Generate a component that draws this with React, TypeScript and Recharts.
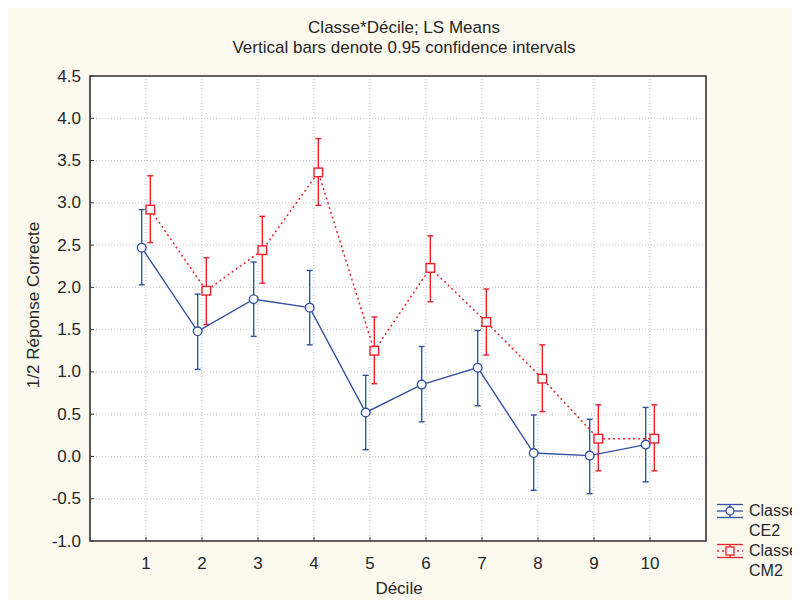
import React from "react";
import {
  ScatterChart,
  Scatter,
  XAxis,
  YAxis,
  CartesianGrid,
  ErrorBar,
  ReferenceArea,
  Legend,
} from "recharts";

const DECILES = [1, 2, 3, 4, 5, 6, 7, 8, 9, 10];
const CE2_MEAN = [2.47, 1.48, 1.86, 1.76, 0.52, 0.85, 1.05, 0.04, 0.01, 0.14];
const CE2_LOW = [2.03, 1.03, 1.42, 1.32, 0.08, 0.41, 0.6, -0.4, -0.44, -0.3];
const CE2_HIGH = [2.92, 1.92, 2.3, 2.2, 0.96, 1.3, 1.49, 0.49, 0.44, 0.58];
const CM2_MEAN = [2.92, 1.96, 2.44, 3.36, 1.25, 2.23, 1.59, 0.92, 0.21, 0.21];
const CM2_LOW = [2.53, 1.56, 2.05, 2.97, 0.86, 1.83, 1.2, 0.53, -0.17, -0.17];
const CM2_HIGH = [3.32, 2.35, 2.84, 3.76, 1.65, 2.61, 1.98, 1.32, 0.61, 0.61];
const Y_TICKS = [-1, -0.5, 0, 0.5, 1, 1.5, 2, 2.5, 3, 3.5, 4, 4.5];

const BLUE = "#3352a3";
const RED = "#ec2227";
const TEXT = "#262626";
const FONT = "'Liberation Sans', Arial, sans-serif";
const FS = 17;
const SHIFT = 0.077; // the two groups are drawn a bit apart around each decile

const build = (mean: number[], low: number[], high: number[], dx: number) =>
  DECILES.map((d, i) => ({
    x: d + dx,
    y: mean[i],
    err: [mean[i] - low[i], high[i] - mean[i]],
  }));

const ce2 = build(CE2_MEAN, CE2_LOW, CE2_HIGH, -SHIFT);
const cm2 = build(CM2_MEAN, CM2_LOW, CM2_HIGH, SHIFT);

const CircleDot = (p: any) => (
  <circle cx={p.cx} cy={p.cy} r={4.3} fill="#fff" stroke={BLUE} strokeWidth={1.4} />
);
const SquareDot = (p: any) => (
  <rect x={p.cx - 4.3} y={p.cy - 4.3} width={8.6} height={8.6} fill="#fff" stroke={RED} strokeWidth={1.4} />
);

const YTick = (p: any) => (
  <g>
    <line x1={p.x + 9} x2={p.x + 13} y1={p.y} y2={p.y} stroke="#333" />
    <text x={p.x} y={p.y} textAnchor="end" dominantBaseline="central" fontSize={FS} fill={TEXT} fontFamily={FONT}>
      {p.payload.value.toFixed(1)}
    </text>
  </g>
);

const XTick = (p: any) => (
  <g>
    <line x1={p.x} x2={p.x} y1={p.y - 22} y2={p.y - 26} stroke="#333" />
    <text x={p.x} y={p.y} textAnchor="middle" dominantBaseline="central" fontSize={FS} fill={TEXT} fontFamily={FONT}>
      {p.payload.value}
    </text>
  </g>
);

const Icon = ({ color, dotted, square }: { color: string; dotted?: boolean; square?: boolean }) => (
  <svg width={26} height={20} style={{ flex: "none" }}>
    <line x1={0} x2={26} y1={3.5} y2={3.5} stroke={color} strokeWidth={1.3} />
    <line x1={0} x2={26} y1={16.5} y2={16.5} stroke={color} strokeWidth={1.3} />
    <line x1={0} x2={26} y1={10} y2={10} stroke={color} strokeWidth={1.3} strokeDasharray={dotted ? "2 3" : undefined} />
    <line x1={13} x2={13} y1={3.5} y2={16.5} stroke={color} strokeWidth={1.3} />
    {square ? (
      <rect x={9} y={6} width={8} height={8} fill="#fff" stroke={color} strokeWidth={1.3} />
    ) : (
      <circle cx={13} cy={10} r={4} fill="#fff" stroke={color} strokeWidth={1.3} />
    )}
  </svg>
);

const LegendBox = () => (
  <div style={{ fontFamily: FONT, fontSize: 16, color: TEXT, lineHeight: "20px", whiteSpace: "nowrap" }}>
    <div style={{ display: "flex", gap: 6 }}>
      <Icon color={BLUE} />
      <div>Classe<br />CE2</div>
    </div>
    <div style={{ display: "flex", gap: 6 }}>
      <Icon color={RED} dotted square />
      <div>Classe<br />CM2</div>
    </div>
  </div>
);

export default function App() {
  return (
    <div style={{ position: "relative", width: 792, height: 592, background: "#fcf9ef", overflow: "hidden", fontFamily: FONT }}>
      <div style={{ position: "absolute", top: 10, width: 792, textAlign: "center", fontSize: FS, color: TEXT, lineHeight: "20px" }}>
        Classe*Décile; LS Means
        <br />
        Vertical bars denote 0.95 confidence intervals
      </div>
      <ScatterChart width={792} height={592} margin={{ top: 68, right: 94, left: 0, bottom: 0 }}>
        <CartesianGrid stroke="#c6c6c6" strokeDasharray="1 2" fill="#fff" />
        <XAxis
          type="number"
          dataKey="x"
          domain={[0, 11]}
          ticks={DECILES}
          allowDataOverflow
          height={59}
          axisLine={false}
          tickLine={false}
          tickSize={0}
          tickMargin={22}
          tick={<XTick />}
          label={{
            content: () => (
              <text x={391} y={580} textAnchor="middle" dominantBaseline="central" fontSize={FS} fill={TEXT} fontFamily={FONT}>
                Décile
              </text>
            ),
          }}
        />
        <YAxis
          type="number"
          dataKey="y"
          domain={[-1, 4.5]}
          ticks={Y_TICKS}
          allowDataOverflow
          width={82}
          axisLine={false}
          tickLine={false}
          tickSize={0}
          tickMargin={9}
          tick={<YTick />}
          label={{
            content: () => (
              <text
                x={25}
                y={297}
                transform="rotate(-90 25 297)"
                textAnchor="middle"
                dominantBaseline="central"
                fontSize={FS}
                fill={TEXT}
                fontFamily={FONT}
              >
                1/2 Réponse Correcte
              </text>
            ),
          }}
        />
        <ReferenceArea x1={0} x2={11} y1={-1} y2={4.5} fill="none" stroke="#333" strokeWidth={1.6} ifOverflow="visible" />
        <Scatter
          name="Classe CE2"
          data={ce2}
          line={{ stroke: BLUE, strokeWidth: 1.4 }}
          lineType="joint"
          shape={CircleDot}
          isAnimationActive={false}
        >
          <ErrorBar dataKey="err" direction="y" width={3} stroke={BLUE} strokeWidth={1.4} />
        </Scatter>
        <Scatter
          name="Classe CM2"
          data={cm2}
          line={{ stroke: RED, strokeWidth: 1.5, strokeDasharray: "2 3" }}
          lineType="joint"
          shape={SquareDot}
          isAnimationActive={false}
        >
          <ErrorBar dataKey="err" direction="y" width={3} stroke={RED} strokeWidth={1.4} />
        </Scatter>
        <Legend
          layout="vertical"
          align="center"
          verticalAlign="middle"
          content={() => <LegendBox />}
          wrapperStyle={{ left: 709, top: 493, width: 120 }}
        />
      </ScatterChart>
    </div>
  );
}
